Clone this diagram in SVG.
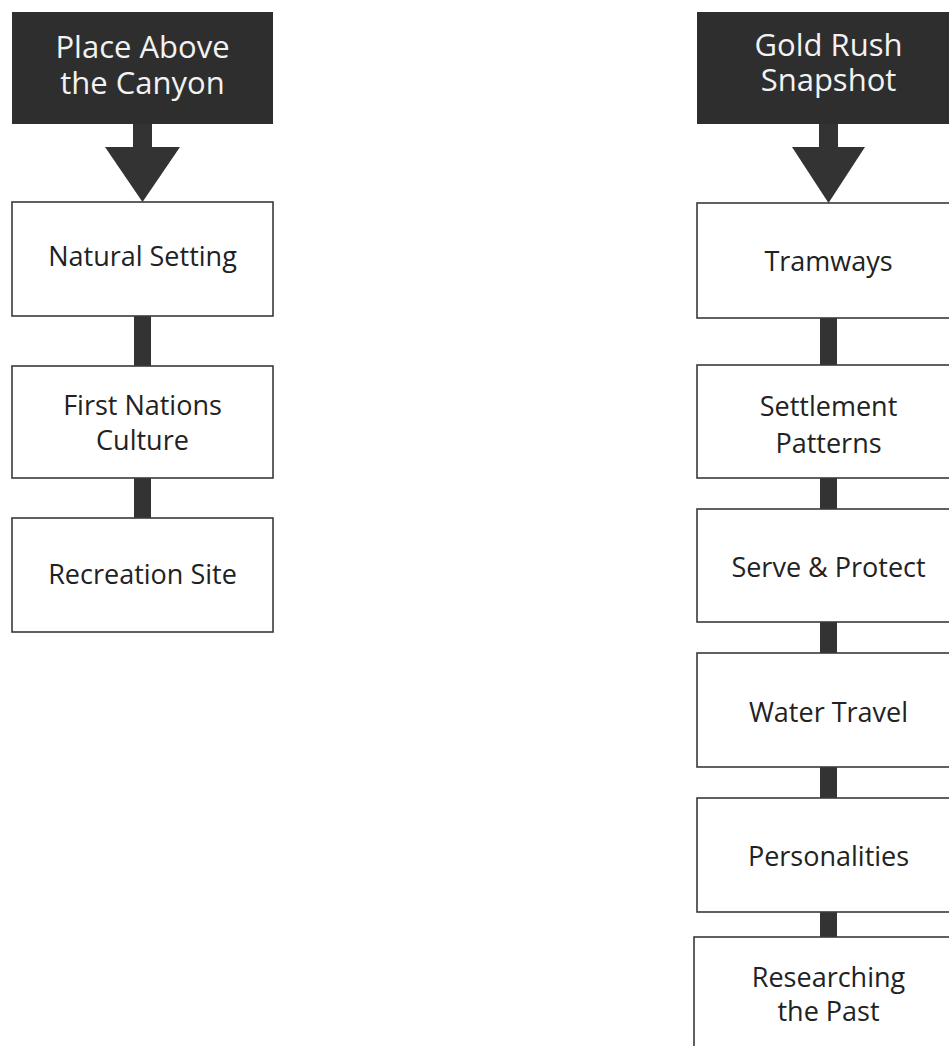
<svg xmlns="http://www.w3.org/2000/svg" width="949" height="1046" viewBox="0 0 949 1046">
<style>
  .hdr { fill: #2e2e2e; }
  .hdrtxt { fill: #f2f2f2; font-family: "Open Sans", "Liberation Sans", sans-serif; font-size: 31px; text-anchor: middle; }
  .box { fill: #ffffff; stroke: #3a3a3a; stroke-width: 1.6; }
  .txt { fill: #222222; font-family: "Open Sans", "Liberation Sans", sans-serif; font-size: 27px; text-anchor: middle; }
  .conn { fill: #333333; }
</style>
<rect width="949" height="1046" fill="#ffffff"/>

<g id="connectors">
  <rect class="conn" x="133" y="123" width="19" height="25"/>
  <polygon class="conn" points="105,147 180,147 142.5,202"/>
  <rect class="conn" x="134" y="316" width="17" height="50"/>
  <rect class="conn" x="134" y="478" width="17" height="40"/>
  <rect class="conn" x="819" y="123" width="19" height="25"/>
  <polygon class="conn" points="792,147 865,147 828.5,203"/>
  <rect class="conn" x="820" y="318" width="17" height="47"/>
  <rect class="conn" x="820" y="478" width="17" height="31"/>
  <rect class="conn" x="820" y="622" width="17" height="31"/>
  <rect class="conn" x="820" y="767" width="17" height="31"/>
  <rect class="conn" x="820" y="912" width="17" height="25"/>
</g>

<g id="place-above">
  <rect class="hdr" x="12" y="12" width="261" height="112"/>
  <text class="hdrtxt" x="142.5" y="58">Place Above</text>
  <text class="hdrtxt" x="142.5" y="94">the Canyon</text>
</g>
<g id="natural-setting">
  <rect class="box" x="12" y="202" width="261" height="114"/>
  <text class="txt" x="142.5" y="266">Natural Setting</text>
</g>
<g id="first-nations">
  <rect class="box" x="12" y="366" width="261" height="112"/>
  <text class="txt" x="142.5" y="415">First Nations</text>
  <text class="txt" x="142.5" y="450">Culture</text>
</g>
<g id="recreation-site">
  <rect class="box" x="12" y="518" width="261" height="114"/>
  <text class="txt" x="142.5" y="584">Recreation Site</text>
</g>

<g id="gold-rush">
  <rect class="hdr" x="697" y="12" width="263" height="112"/>
  <text class="hdrtxt" x="828.5" y="56">Gold Rush</text>
  <text class="hdrtxt" x="828.5" y="91">Snapshot</text>
</g>
<g id="tramways">
  <rect class="box" x="697" y="203" width="263" height="115"/>
  <text class="txt" x="828.5" y="271">Tramways</text>
</g>
<g id="settlement">
  <rect class="box" x="697" y="365" width="263" height="113"/>
  <text class="txt" x="828.5" y="416">Settlement</text>
  <text class="txt" x="828.5" y="453">Patterns</text>
</g>
<g id="serve-protect">
  <rect class="box" x="697" y="509" width="263" height="113"/>
  <text class="txt" x="828.5" y="577">Serve &amp; Protect</text>
</g>
<g id="water-travel">
  <rect class="box" x="697" y="653" width="263" height="114"/>
  <text class="txt" x="828.5" y="722">Water Travel</text>
</g>
<g id="personalities">
  <rect class="box" x="697" y="798" width="263" height="114"/>
  <text class="txt" x="828.5" y="866">Personalities</text>
</g>
<g id="researching">
  <rect class="box" x="694" y="937" width="266" height="130"/>
  <text class="txt" x="828.5" y="987">Researching</text>
  <text class="txt" x="828.5" y="1021">the Past</text>
</g>
</svg>
